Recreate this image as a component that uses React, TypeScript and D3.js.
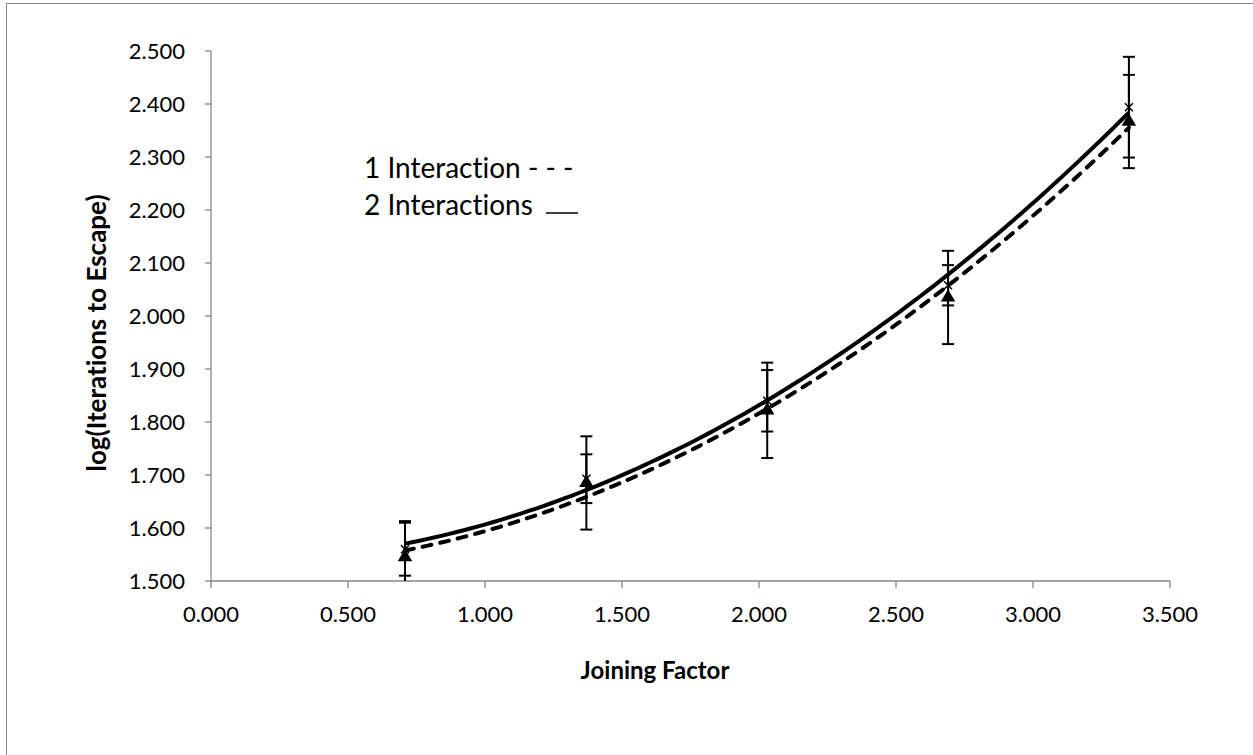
import React from 'react'
import * as d3 from 'd3'

// values
const joiningFactor = [0.708, 1.37, 2.03, 2.69, 3.35]
const oneInteraction = [1.545, 1.685, 1.822, 2.035, 2.367]
const oneInteractionErr = [0.068, 0.088, 0.09, 0.088, 0.088]
const twoInteractions = [1.56, 1.693, 1.84, 2.058, 2.394]
const twoInteractionsErr = [0.05, 0.046, 0.058, 0.038, 0.095]
const xTicks = [0, 0.5, 1, 1.5, 2, 2.5, 3, 3.5]
const yTicks = [1.5, 1.6, 1.7, 1.8, 1.9, 2.0, 2.1, 2.2, 2.3, 2.4, 2.5]

const FONT = 'Lato, "Open Sans", sans-serif'
const AXIS = '#868686'
const noLig = { fontVariantLigatures: 'none' as const, fontFeatureSettings: '"liga" 0, "clig" 0' }

// least squares, 2nd order (like the Excel poly trendline)
const polyFit = (xs: number[], ys: number[]) => {
  const n = xs.length
  const s = (f: (x: number, y: number) => number) => d3.sum(xs, (x, i) => f(x, ys[i]))
  const sx = s((x) => x), sx2 = s((x) => x * x), sx3 = s((x) => x ** 3), sx4 = s((x) => x ** 4)
  const sy = s((x, y) => y), sxy = s((x, y) => x * y), sx2y = s((x, y) => x * x * y)
  const m = [[n, sx, sx2, sy], [sx, sx2, sx3, sxy], [sx2, sx3, sx4, sx2y]]
  for (let i = 0; i < 3; i++) {
    for (let k = i + 1; k < 3; k++) {
      const f = m[k][i] / m[i][i]
      for (let j = i; j < 4; j++) m[k][j] -= f * m[i][j]
    }
  }
  const c = [0, 0, 0]
  for (let i = 2; i >= 0; i--) {
    let v = m[i][3]
    for (let j = i + 1; j < 3; j++) v -= m[i][j] * c[j]
    c[i] = v / m[i][i]
  }
  return (x: number) => c[0] + c[1] * x + c[2] * x * x
}

export default function App() {
  const width = 1253
  const height = 755
  const left = 211, right = 1170, top = 51, bottom = 581

  const x = d3.scaleLinear().domain([0, 3.5]).range([left, right])
  const y = d3.scaleLinear().domain([1.5, 2.5]).range([bottom, top])

  const trend = (vals: number[]) => {
    const f = polyFit(joiningFactor, vals)
    const lo = d3.min(joiningFactor) as number
    const hi = d3.max(joiningFactor) as number
    const pts = d3.range(0, 101).map((i) => lo + ((hi - lo) * i) / 100)
    return d3.line<number>().x((d) => x(d)).y((d) => y(f(d)))(pts) as string
  }

  const clampY = (v: number) => y(Math.max(1.5, Math.min(2.5, v)))

  const errorBars = (vals: number[], errs: number[], key: string) =>
    vals.map((v, i) => {
      const cx = x(joiningFactor[i])
      const hiV = v + errs[i], loV = v - errs[i]
      return (
        <g key={key + i} stroke="#000" strokeWidth={2}>
          <line x1={cx} x2={cx} y1={clampY(hiV)} y2={clampY(loV)} />
          {hiV <= 2.5 && <line x1={cx - 6} x2={cx + 6} y1={y(hiV)} y2={y(hiV)} />}
          {loV >= 1.5 && <line x1={cx - 6} x2={cx + 6} y1={y(loV)} y2={y(loV)} />}
        </g>
      )
    })

  const tri = d3.symbol(d3.symbolTriangle, 90)()

  return (
    <svg width={width} height={height} style={{ position: 'absolute', left: 0, top: 0, background: '#fff', ...noLig }}>
      <rect x={6.5} y={3.5} width={width + 20} height={height + 20} fill="#fff" stroke={AXIS} strokeWidth={1} />

      {/* axes */}
      <g stroke={AXIS} strokeWidth={1.3} fill="none">
        <line x1={left} x2={left} y1={top} y2={bottom} />
        <line x1={left} x2={right} y1={bottom} y2={bottom} />
        {yTicks.map((t) => (
          <line key={'yt' + t} x1={left - 6} x2={left} y1={y(t)} y2={y(t)} />
        ))}
        {xTicks.map((t) => (
          <line key={'xt' + t} x1={x(t)} x2={x(t)} y1={bottom} y2={bottom + 7} />
        ))}
      </g>
      <g fontFamily={FONT} fontSize={22} fill="#000">
        {yTicks.map((t) => (
          <text key={'yl' + t} x={left - 26} y={y(t)} dy="0.36em" textAnchor="end">
            {d3.format('.3f')(t)}
          </text>
        ))}
        {xTicks.map((t) => (
          <text key={'xl' + t} x={x(t)} y={bottom + 41} textAnchor="middle">
            {d3.format('.3f')(t)}
          </text>
        ))}
      </g>

      {/* titles */}
      <text x={655} y={679} textAnchor="middle" fontFamily={FONT} fontSize={24} fontWeight="bold">
        Joining Factor
      </text>
      <text
        transform={`translate(106, ${(top + bottom) / 2 + 17}) rotate(-90)`}
        textAnchor="middle"
        fontFamily={FONT}
        fontSize={26}
        fontWeight="bold"
      >
        log(Iterations to Escape)
      </text>

      {/* error bars */}
      {errorBars(oneInteraction, oneInteractionErr, 'e1')}
      {errorBars(twoInteractions, twoInteractionsErr, 'e2')}

      {/* markers */}
      {oneInteraction.map((v, i) => (
        <path key={'m1' + i} d={tri as string} transform={`translate(${x(joiningFactor[i])},${y(v)})`} fill="#000" />
      ))}
      {twoInteractions.map((v, i) => (
        <g key={'m2' + i} transform={`translate(${x(joiningFactor[i])},${y(v)})`} stroke="#000" strokeWidth={1.5}>
          <line x1={-4} x2={4} y1={-4} y2={4} />
          <line x1={-4} x2={4} y1={4} y2={-4} />
        </g>
      ))}

      {/* trendlines */}
      <path d={trend(oneInteraction)} fill="none" stroke="#000" strokeWidth={4} strokeDasharray="9 9" strokeLinecap="round" />
      <path d={trend(twoInteractions)} fill="none" stroke="#000" strokeWidth={4} />

      {/* legend */}
      <g fontFamily={FONT} fontSize={28} fill="#000">
        <text x={364} y={178}>1 Interaction - - -</text>
        <text x={364} y={215}>2 Interactions</text>
      </g>
      <line x1={546} x2={578} y1={213} y2={213} stroke="#000" strokeWidth={1.5} />
    </svg>
  )
}
